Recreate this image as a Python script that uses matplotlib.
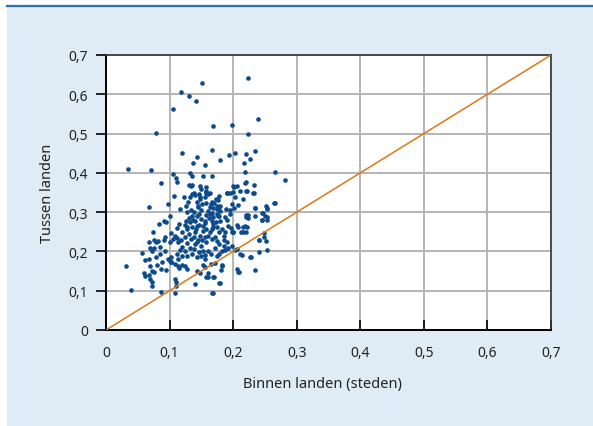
import matplotlib.pyplot as plt
from matplotlib.patches import Rectangle
from matplotlib.lines import Line2D

plt.rcParams['font.family'] = ['Noto Sans', 'DejaVu Sans']

# share of connections within countries (cities) vs between countries
binnen = [
    0.087, 0.111, 0.130, 0.133, 0.136, 0.148, 0.150, 0.157, 0.158, 0.146, 0.140, 0.148,
    0.195, 0.200, 0.202, 0.206, 0.218, 0.220, 0.222, 0.233, 0.232, 0.282, 0.216,
    0.068, 0.098, 0.107, 0.116, 0.122, 0.126, 0.129, 0.132, 0.136, 0.139, 0.143, 0.148,
    0.155, 0.157, 0.151, 0.144, 0.157, 0.165, 0.173, 0.178, 0.169, 0.174, 0.180, 0.179,
    0.188, 0.190, 0.195, 0.198, 0.202, 0.203, 0.199, 0.235, 0.251, 0.253, 0.265, 0.246, 0.174,
    0.083, 0.091, 0.094, 0.100, 0.111, 0.115, 0.126, 0.128, 0.132, 0.136, 0.140, 0.143,
    0.146, 0.149, 0.153, 0.156, 0.158, 0.164, 0.166, 0.169, 0.173, 0.177, 0.180, 0.187,
    0.192, 0.195, 0.200, 0.207, 0.215, 0.220, 0.222, 0.223, 0.235, 0.246, 0.250, 0.253,
    0.074, 0.076, 0.067, 0.078, 0.082, 0.091, 0.103, 0.106, 0.112, 0.114, 0.120, 0.124,
    0.128, 0.131, 0.133, 0.140, 0.143, 0.148, 0.151, 0.156, 0.158, 0.164, 0.167, 0.171,
    0.174, 0.177, 0.178, 0.186, 0.187, 0.190, 0.199, 0.215, 0.221, 0.240, 0.248, 0.251,
    0.056, 0.061, 0.067, 0.069, 0.073, 0.076, 0.079, 0.085, 0.093, 0.098, 0.102, 0.101,
    0.103, 0.111, 0.114, 0.116, 0.119, 0.124, 0.128, 0.132, 0.135, 0.138, 0.143, 0.147,
    0.149, 0.153, 0.156, 0.161, 0.165, 0.171, 0.174, 0.177, 0.182, 0.187, 0.192, 0.198,
    0.203, 0.206, 0.211, 0.227, 0.240, 0.253,
    0.031, 0.059, 0.061, 0.067, 0.069, 0.072, 0.076, 0.080, 0.087, 0.088, 0.095, 0.102,
    0.109, 0.114, 0.115, 0.119, 0.124, 0.127, 0.143, 0.148, 0.152, 0.156, 0.160, 0.165,
    0.171, 0.182, 0.206, 0.208, 0.234,
    0.039, 0.069, 0.072, 0.073, 0.086, 0.109, 0.110, 0.110, 0.108, 0.140, 0.158, 0.169,
    0.178, 0.167,
    0.151, 0.118, 0.131, 0.142, 0.106, 0.079, 0.223, 0.239, 0.169, 0.198, 0.223, 0.167,
    0.119, 0.143, 0.203, 0.193, 0.220, 0.234, 0.226, 0.180, 0.137, 0.156, 0.217, 0.034,
    0.070, 0.105, 0.132, 0.152, 0.167, 0.219, 0.266, 0.110, 0.136,
    0.248, 0.241, 0.228, 0.214, 0.209, 0.183, 0.181, 0.160, 0.170, 0.179, 0.168, 0.212, 0.198,
    0.211, 0.221, 0.233, 0.190, 0.208, 0.266, 0.234, 0.253, 0.247, 0.254, 0.246, 0.221,
    0.224, 0.219, 0.206,
    0.158, 0.160, 0.163, 0.166, 0.170, 0.176, 0.163, 0.174, 0.177, 0.161, 0.166, 0.168,
    0.176, 0.157, 0.162, 0.168, 0.155, 0.150, 0.145, 0.139, 0.134, 0.128, 0.131, 0.137,
    0.143, 0.147, 0.152, 0.141, 0.135, 0.125, 0.160, 0.166, 0.145, 0.138, 0.150, 0.140,
    0.128, 0.120, 0.155, 0.185, 0.182, 0.175, 0.190, 0.196, 0.186, 0.118, 0.108, 0.100,
    0.093, 0.085,
]
tussen = [
    0.373, 0.376, 0.369, 0.366, 0.369, 0.366, 0.359, 0.363, 0.350, 0.346, 0.344, 0.338,
    0.350, 0.367, 0.365, 0.366, 0.373, 0.376, 0.354, 0.370, 0.350, 0.383, 0.333,
    0.312, 0.322, 0.342, 0.308, 0.338, 0.316, 0.325, 0.338, 0.346, 0.350, 0.327, 0.333,
    0.338, 0.352, 0.321, 0.316, 0.323, 0.321, 0.333, 0.342, 0.310, 0.308, 0.316, 0.303,
    0.308, 0.350, 0.306, 0.321, 0.310, 0.338, 0.352, 0.310, 0.316, 0.308, 0.323, 0.298, 0.295,
    0.271, 0.278, 0.274, 0.290, 0.259, 0.270, 0.277, 0.261, 0.274, 0.291, 0.278, 0.266,
    0.295, 0.283, 0.266, 0.278, 0.257, 0.295, 0.278, 0.263, 0.274, 0.291, 0.278, 0.287,
    0.266, 0.295, 0.250, 0.261, 0.261, 0.287, 0.263, 0.293, 0.289, 0.281, 0.289, 0.280,
    0.249, 0.229, 0.225, 0.225, 0.227, 0.229, 0.247, 0.232, 0.233, 0.223, 0.249, 0.236,
    0.257, 0.244, 0.232, 0.249, 0.225, 0.240, 0.229, 0.236, 0.223, 0.249, 0.257, 0.238,
    0.227, 0.249, 0.220, 0.229, 0.250, 0.223, 0.250, 0.249, 0.249, 0.229, 0.236, 0.227,
    0.196, 0.179, 0.181, 0.210, 0.202, 0.210, 0.185, 0.193, 0.202, 0.181, 0.185, 0.176,
    0.172, 0.193, 0.181, 0.204, 0.189, 0.202, 0.188, 0.210, 0.193, 0.206, 0.185, 0.198,
    0.188, 0.202, 0.181, 0.202, 0.193, 0.210, 0.188, 0.193, 0.202, 0.204, 0.210, 0.215,
    0.204, 0.206, 0.193, 0.185, 0.199, 0.204,
    0.162, 0.144, 0.138, 0.140, 0.162, 0.149, 0.147, 0.165, 0.155, 0.172, 0.154, 0.174,
    0.168, 0.164, 0.157, 0.165, 0.164, 0.155, 0.149, 0.145, 0.165, 0.160, 0.145, 0.168,
    0.171, 0.162, 0.155, 0.147, 0.154,
    0.102, 0.130, 0.121, 0.111, 0.096, 0.130, 0.121, 0.111, 0.093, 0.117, 0.134, 0.134,
    0.120, 0.093,
    0.628, 0.607, 0.596, 0.582, 0.562, 0.501, 0.641, 0.536, 0.518, 0.522, 0.499, 0.458,
    0.450, 0.440, 0.451, 0.445, 0.448, 0.455, 0.435, 0.433, 0.425, 0.420, 0.425, 0.410,
    0.407, 0.397, 0.399, 0.392, 0.392, 0.401, 0.401, 0.386, 0.391,
    0.247, 0.229, 0.186, 0.192, 0.147, 0.165, 0.152, 0.135, 0.135, 0.120, 0.094, 0.249, 0.249,
    0.353, 0.353, 0.350, 0.350, 0.318, 0.323, 0.310, 0.310, 0.297, 0.287, 0.280, 0.293,
    0.284, 0.265, 0.267,
    0.353, 0.345, 0.349, 0.327, 0.323, 0.330, 0.312, 0.316, 0.312, 0.304, 0.297, 0.288,
    0.290, 0.293, 0.285, 0.270, 0.272, 0.305, 0.312, 0.300, 0.306, 0.300, 0.285, 0.280,
    0.290, 0.268, 0.252, 0.256, 0.262, 0.268, 0.240, 0.232, 0.230, 0.238, 0.214, 0.218,
    0.222, 0.212, 0.190, 0.240, 0.258, 0.262, 0.280, 0.260, 0.214, 0.230, 0.240, 0.225,
    0.238, 0.212,
]

ticks = [0, 0.1, 0.2, 0.3, 0.4, 0.5, 0.6, 0.7]
tick_labels = ['0', '0,1', '0,2', '0,3', '0,4', '0,5', '0,6', '0,7']

bg = '#e0ecf5'
fig = plt.figure(figsize=(5.93, 4.27), dpi=100)
fig.patch.set_facecolor('white')
fig.patches.append(Rectangle((7 / 593, 0), 1, 420 / 427, transform=fig.transFigure,
                             facecolor=bg, edgecolor='none', zorder=-10))
fig.lines.append(Line2D([7 / 593, 1], [420.5 / 427, 420.5 / 427], transform=fig.transFigure,
                        color='#2f6fb5', linewidth=1.6))

ax = fig.add_axes([106 / 593, 96 / 427, 445 / 593, 275 / 427])
ax.set_facecolor('white')
ax.set_xlim(0, 0.7)
ax.set_ylim(0, 0.7)
ax.grid(True, color='#b4b4b4', linewidth=1.4)
ax.set_axisbelow(True)

ax.scatter(binnen, tussen, s=11, color='#0b4a8c', linewidths=0, zorder=3)
ax.plot([0, 0.7], [0, 0.7], color='#e27516', linewidth=1.1, zorder=4)

ax.set_xticks(ticks)
ax.set_xticklabels(tick_labels)
ax.set_yticks(ticks)
ax.set_yticklabels(tick_labels)
ax.tick_params(axis='x', direction='in', length=7, width=1.2, pad=11, labelsize=10,
               labelcolor='#222222')
ax.tick_params(axis='y', direction='out', length=7, width=1.2, pad=6, labelsize=10,
               labelcolor='#222222')

for side in ['left', 'bottom']:
    ax.spines[side].set_linewidth(1.4)
    ax.spines[side].set_color('black')
for side in ['top', 'right']:
    ax.spines[side].set_linewidth(1.2)
    ax.spines[side].set_color('#333333')

ax.set_xlabel('Binnen landen (steden)', fontsize=10.5, color='#222222')
ax.set_ylabel('Tussen landen', fontsize=10.5, color='#222222')
ax.xaxis.set_label_coords(0.487, -0.168)
ax.yaxis.set_label_coords(-0.115, 0.5)

fig.savefig('out.png', dpi=100, facecolor=fig.get_facecolor())
